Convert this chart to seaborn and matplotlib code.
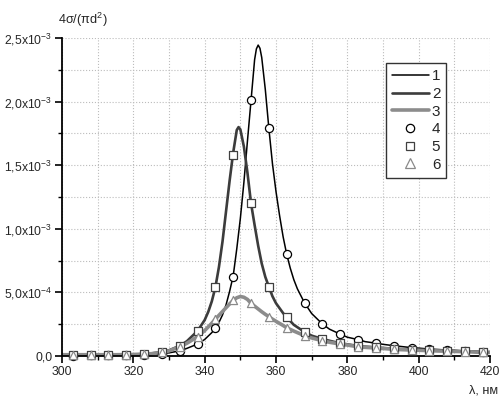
import matplotlib
matplotlib.use("Agg")
import matplotlib.pyplot as plt
from matplotlib.lines import Line2D
import pandas as pd
import seaborn as sns

# ---------------- data (values in units of 1e-3) ----------------
SCALE = 1e-3

line1_x = [300, 305, 310, 315, 320, 325, 328, 330, 333, 335, 338, 340, 342, 343, 344, 345,
           346, 347, 348, 349, 350, 351, 352, 353, 354, 354.5, 355, 355.5, 356, 357, 358,
           359, 360, 361, 362, 363, 364, 365, 366, 368, 370, 373, 375, 378, 380, 383,
           385, 388, 390, 393, 395, 398, 400, 403, 405, 408, 410, 413, 415, 418, 420]
line1_y = [0.003, 0.003, 0.005, 0.006, 0.008, 0.012, 0.018, 0.025, 0.040, 0.060, 0.094, 0.130,
           0.184, 0.218, 0.264, 0.323, 0.403, 0.509, 0.63, 0.843, 1.081, 1.366, 1.693, 2.01,
           2.33, 2.415, 2.445, 2.42, 2.347, 2.096, 1.79, 1.514, 1.293, 1.105, 0.937, 0.80,
           0.691, 0.600, 0.528, 0.418, 0.334, 0.252, 0.211, 0.172, 0.148, 0.129, 0.113,
           0.101, 0.092, 0.081, 0.075, 0.066, 0.062, 0.055, 0.052, 0.047, 0.045, 0.040,
           0.038, 0.035, 0.034]

line2_x = [300, 305, 310, 315, 320, 325, 328, 330, 333, 335, 338, 340, 341, 342, 343, 344,
           345, 346, 347, 348, 349, 349.5, 350, 351, 352, 353, 354, 355, 356, 357, 358,
           359, 360, 362, 363, 365, 368, 370, 373, 375, 378, 380, 383, 385, 388, 390,
           393, 395, 398, 400, 403, 405, 408, 410, 413, 415, 418, 420]
line2_y = [0.004, 0.004, 0.006, 0.007, 0.010, 0.020, 0.032, 0.045, 0.080, 0.116, 0.197,
           0.283, 0.347, 0.43, 0.54, 0.70, 0.90, 1.14, 1.38, 1.60, 1.777, 1.80, 1.782,
           1.646, 1.44, 1.20, 1.03, 0.867, 0.727, 0.622, 0.545, 0.470, 0.415, 0.337,
           0.305, 0.245, 0.189, 0.160, 0.134, 0.120, 0.100, 0.092, 0.079, 0.074, 0.068,
           0.063, 0.057, 0.054, 0.050, 0.047, 0.044, 0.042, 0.040, 0.038, 0.036, 0.034,
           0.030, 0.030]

line3_x = [300, 305, 310, 315, 320, 325, 328, 330, 333, 335, 338, 340, 342, 343, 344, 345,
           346, 347, 348, 349, 350, 351, 352, 353, 354, 355, 356, 357, 358, 359, 360, 362,
           363, 365, 368, 370, 373, 375, 378, 380, 383, 385, 388, 390, 393, 395, 398, 400,
           403, 405, 408, 410, 413, 415, 418, 420]
line3_y = [0.010, 0.010, 0.010, 0.010, 0.012, 0.018, 0.028, 0.040, 0.073, 0.100, 0.152,
           0.200, 0.258, 0.290, 0.320, 0.350, 0.380, 0.410, 0.437, 0.458, 0.468, 0.462,
           0.445, 0.414, 0.392, 0.370, 0.348, 0.328, 0.309, 0.290, 0.273, 0.240, 0.222,
           0.196, 0.160, 0.142, 0.120, 0.108, 0.094, 0.086, 0.073, 0.068, 0.063, 0.059,
           0.053, 0.050, 0.047, 0.045, 0.042, 0.040, 0.038, 0.036, 0.034, 0.032, 0.028,
           0.028]

marker_x = [303, 308, 313, 318, 323, 328, 333, 338, 343, 348, 353, 358,
            363, 368, 373, 378, 383, 388, 393, 398, 403, 408, 413, 418]
circle_y = [0.003, 0.004, 0.005, 0.007, 0.010, 0.018, 0.040, 0.094, 0.218, 0.62, 2.01, 1.79,
            0.80, 0.418, 0.252, 0.172, 0.129, 0.101, 0.081, 0.066, 0.055, 0.047, 0.040, 0.035]
square_y = [0.004, 0.005, 0.006, 0.008, 0.012, 0.032, 0.080, 0.197, 0.54, 1.58, 1.20, 0.545,
            0.305, 0.189, 0.134, 0.100, 0.079, 0.068, 0.057, 0.050, 0.044, 0.040, 0.036, 0.030]
triangle_y = [0.010, 0.010, 0.010, 0.010, 0.013, 0.028, 0.073, 0.152, 0.29, 0.437, 0.414,
              0.309, 0.222, 0.160, 0.120, 0.094, 0.073, 0.063, 0.053, 0.047, 0.042, 0.038,
              0.034, 0.028]

legend_labels = ["1", "2", "3", "4", "5", "6"]
x_ticks = [300, 320, 340, 360, 380, 400, 420]
y_ticks = [0, 5e-4, 1e-3, 1.5e-3, 2e-3, 2.5e-3]
y_tick_labels = ["0,0", r"$\mathregular{5{,}0x10^{-4}}$", r"$\mathregular{1{,}0x10^{-3}}$",
                 r"$\mathregular{1{,}5x10^{-3}}$", r"$\mathregular{2{,}0x10^{-3}}$",
                 r"$\mathregular{2{,}5x10^{-3}}$"]

# ---------------- styles ----------------
C1, C2, C3 = "#000000", "#3c3c3c", "#8c8c8c"
TICK_FS = 8.8

sns.set_style("white")
plt.rcParams["font.family"] = ["Liberation Sans", "DejaVu Sans"]
plt.rcParams["font.size"] = TICK_FS

fig = plt.figure(figsize=(5.01, 4.01), dpi=100)
ax = fig.add_axes([0.1238, 0.1122, 0.8542, 0.7928])

# lines
for lx, ly, col, lw in [(line1_x, line1_y, C1, 1.1),
                        (line2_x, line2_y, C2, 1.9),
                        (line3_x, line3_y, C3, 2.6)]:
    df = pd.DataFrame({"x": lx, "y": [v * SCALE for v in ly]})
    sns.lineplot(data=df, x="x", y="y", ax=ax, color=col, linewidth=lw,
                 estimator=None, sort=False, legend=False)

# markers
for my, mk, ec in [(circle_y, "o", C1), (square_y, "s", "#404040"), (triangle_y, "^", "#8a8a8a")]:
    df = pd.DataFrame({"x": marker_x, "y": [v * SCALE for v in my]})
    sns.scatterplot(data=df, x="x", y="y", ax=ax, marker=mk, s=34, color="white",
                    edgecolor=ec, linewidth=0.9, zorder=5, clip_on=False, legend=False)

ax.set_xlim(300, 420)
ax.set_ylim(0, 2.5e-3)
ax.set_xticks(x_ticks)
ax.set_xticks(range(310, 420, 20), minor=True)
ax.set_yticks(y_ticks)
ax.set_yticklabels(y_tick_labels)
ax.set_yticks([2.5e-4, 7.5e-4, 1.25e-3, 1.75e-3, 2.25e-3], minor=True)
ax.set_xlabel("")
ax.set_ylabel("")

ax.grid(True, which="both", linestyle=":", color="#bcbcbc", linewidth=0.8)
ax.set_axisbelow(True)
for s in ["top", "right"]:
    ax.spines[s].set_visible(False)
for s in ["left", "bottom"]:
    ax.spines[s].set_color("black")
    ax.spines[s].set_linewidth(1.3)
ax.tick_params(which="major", direction="out", length=5, width=1.2, color="black",
               labelsize=TICK_FS, pad=2, left=True, bottom=True)
ax.tick_params(which="minor", direction="out", length=3, width=1.0, color="black",
               left=True, bottom=True)

fig.text(0.116, 0.95, r"$\mathregular{4σ/(πd^{2})}$", ha="left", va="center", fontsize=9.2)
fig.text(0.994, 0.025, "λ, нм", ha="right", va="center", fontsize=9.2)

handles = [
    Line2D([], [], color=C1, lw=1.1),
    Line2D([], [], color=C2, lw=1.9),
    Line2D([], [], color=C3, lw=2.6),
    Line2D([], [], ls="", marker="o", ms=6, mfc="white", mec=C1, mew=0.9),
    Line2D([], [], ls="", marker="s", ms=5.5, mfc="white", mec="#404040", mew=0.9),
    Line2D([], [], ls="", marker="^", ms=6.5, mfc="white", mec="#8a8a8a", mew=0.9),
]
leg = ax.legend(handles, legend_labels, loc="upper left", bbox_to_anchor=(0.757, 0.921),
                borderaxespad=0, fontsize=11, frameon=True, fancybox=False,
                handlelength=2.4, handletextpad=0.2, labelspacing=0.24, borderpad=0.4)
leg.get_frame().set_edgecolor("#333333")
leg.get_frame().set_linewidth(1.0)
leg.get_frame().set_alpha(1)

fig.savefig("out.png", dpi=100)
